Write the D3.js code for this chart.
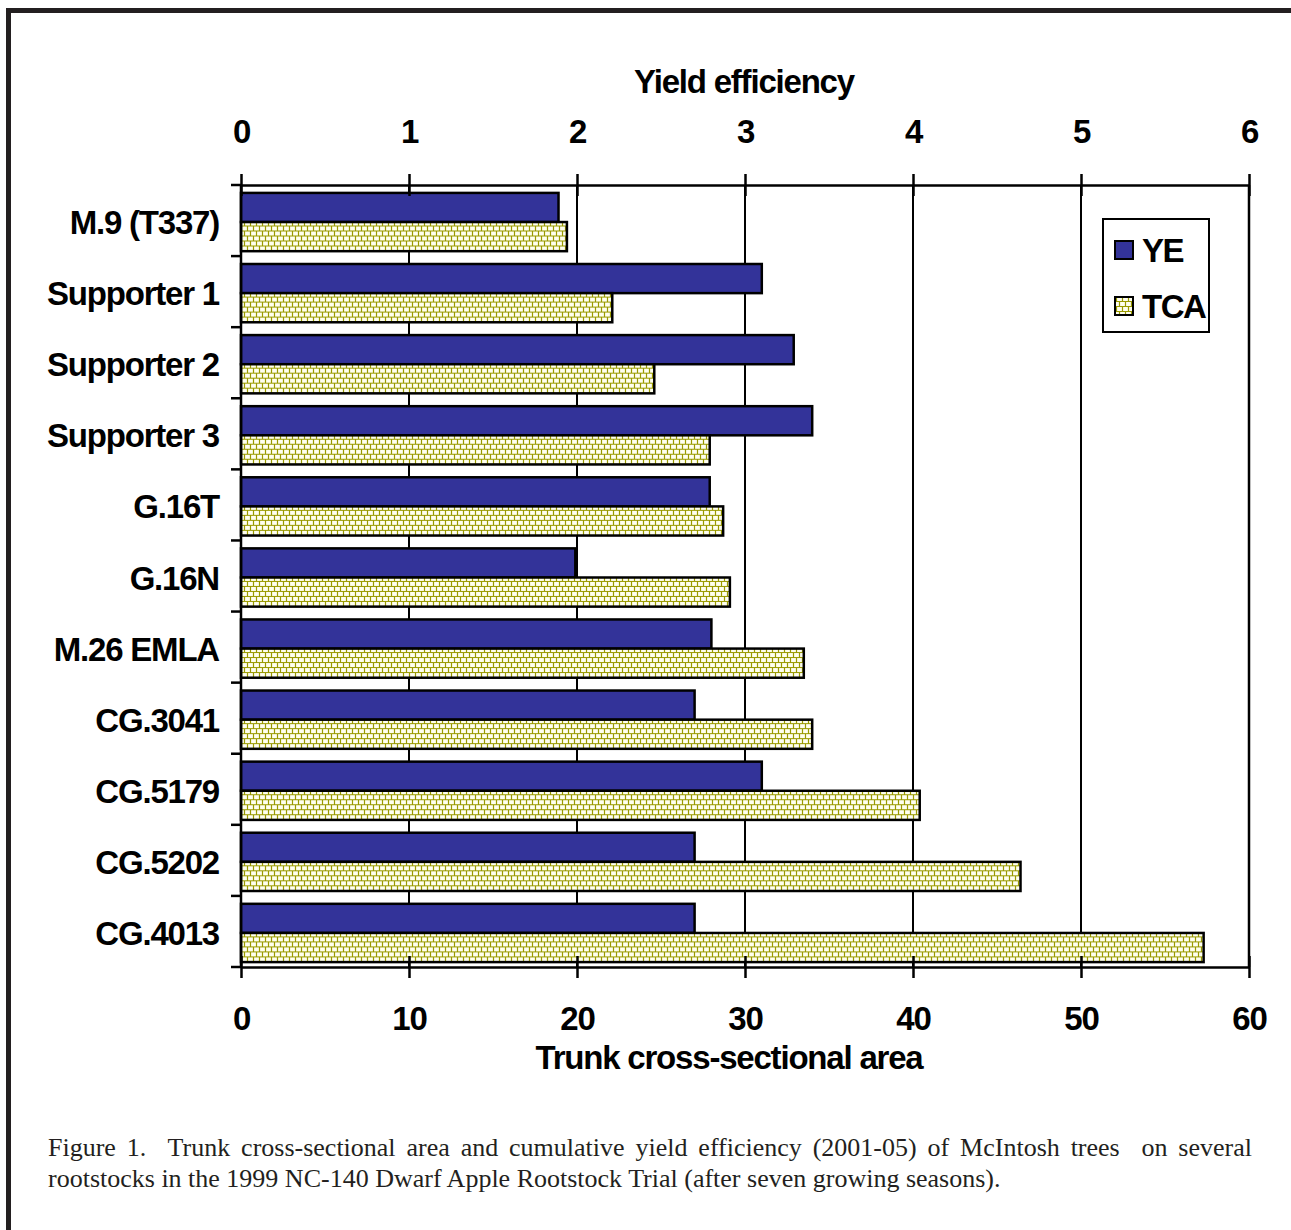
<!DOCTYPE html>
<html>
<head>
<meta charset="utf-8">
<script src="https://cdn.jsdelivr.net/npm/d3@7"></script>
<style>
  body { margin: 0; background: #fff; }
  svg { display: block; }
  .lbl { font-family: "Liberation Sans", Arial, sans-serif; font-weight: bold; font-size: 33px; letter-spacing: -1.2px; fill: #000; }
  .cap { font-family: "Liberation Serif", "Times New Roman", serif; font-size: 26px; fill: #231f20; }
</style>
</head>
<body>
<svg id="chart" width="1291" height="1230"></svg>
<script>
const ROOTSTOCKS = ['M.9 (T337)', 'Supporter 1', 'Supporter 2', 'Supporter 3', 'G.16T',
  'G.16N', 'M.26 EMLA', 'CG.3041', 'CG.5179', 'CG.5202', 'CG.4013']
const YE = [1.89, 3.10, 3.29, 3.40, 2.79, 1.99, 2.80, 2.70, 3.10, 2.70, 2.70]
const TCA = [19.4, 22.1, 24.6, 27.9, 28.7, 29.1, 33.5, 34.0, 40.4, 46.4, 57.3]
const YE_TICKS = [0, 1, 2, 3, 4, 5, 6]
const TCA_TICKS = [0, 10, 20, 30, 40, 50, 60]
const SERIES = ['YE', 'TCA']
const CAPTION = [
  'Figure 1.  Trunk cross-sectional area and cumulative yield efficiency (2001-05) of McIntosh trees  on several',
  'rootstocks in the 1999 NC-140 Dwarf Apple Rootstock Trial (after seven growing seasons).'
]

const svg = d3.select('#chart')
const plotL = 241, plotR = 1249, plotT = 185, plotB = 967

// brick hatch for the TCA bars
const pat = svg.append('defs').append('pattern')
  .attr('id', 'brick')
  .attr('patternUnits', 'userSpaceOnUse')
  .attr('width', 6).attr('height', 10)
pat.append('rect').attr('width', 6).attr('height', 10).attr('fill', '#fffff0')
pat.append('path')
  .attr('d', 'M0,4.5H6M0,9.5H6M1.5,0V4M4.5,5V9')
  .attr('stroke', '#999900').attr('stroke-width', 1.2)

// frame of the page
svg.append('path')
  .attr('d', 'M8.5,1230V10.5H1291')
  .attr('fill', 'none').attr('stroke', '#231f20').attr('stroke-width', 5)

const x = d3.scaleLinear().domain([0, 60]).range([plotL, plotR])
const xYE = d3.scaleLinear().domain([0, 6]).range([plotL, plotR])
const y = d3.scaleBand().domain(ROOTSTOCKS).range([plotT, plotB]).padding(0)
const inner = d3.scaleBand().domain(SERIES).range([0, y.bandwidth()])
  .paddingInner(0).paddingOuter(0.22)

// grid
svg.append('g').selectAll('line')
  .data(TCA_TICKS.slice(1))
  .join('line')
    .attr('x1', d => x(d)).attr('x2', d => x(d))
    .attr('y1', plotT).attr('y2', plotB)
    .attr('stroke', '#000').attr('stroke-width', 2)

const rows = svg.append('g').selectAll('g')
  .data(ROOTSTOCKS)
  .join('g')
    .attr('transform', d => `translate(0,${y(d) + 1.5})`)

rows.append('rect')
  .attr('x', plotL)
  .attr('y', inner('YE'))
  .attr('width', (d, i) => xYE(YE[i]) - plotL)
  .attr('height', inner.bandwidth())
  .attr('fill', '#333399').attr('stroke', '#000').attr('stroke-width', 2.5)

rows.append('rect')
  .attr('x', plotL)
  .attr('y', inner('TCA'))
  .attr('width', (d, i) => x(TCA[i]) - plotL)
  .attr('height', inner.bandwidth())
  .attr('fill', 'url(#brick)').attr('stroke', '#000').attr('stroke-width', 2.5)

// axes
const styleAxis = (g) => {
  g.select('.domain').attr('stroke', '#000').attr('stroke-width', 2.5)
  g.selectAll('.tick line').attr('stroke', '#000').attr('stroke-width', 2.5)
  g.selectAll('.tick text').attr('class', 'lbl').attr('font-size', null).attr('font-family', null)
}

svg.append('g')
  .attr('transform', `translate(0,${plotT})`)
  .call(d3.axisTop(xYE).tickValues(YE_TICKS).tickFormat(d3.format('d'))
    .tickSizeInner(11).tickSizeOuter(0).tickPadding(31))
  .call(g => g.selectAll('.tick').append('line').attr('y2', 11))
  .call(styleAxis)

svg.append('g')
  .attr('transform', `translate(0,${plotB})`)
  .call(d3.axisBottom(x).tickValues(TCA_TICKS).tickFormat(d3.format('d'))
    .tickSizeInner(11).tickSizeOuter(0).tickPadding(29))
  .call(g => g.selectAll('.tick').append('line').attr('y2', -11))
  .call(styleAxis)

// left axis: ticks sit between categories
const yEdges = ROOTSTOCKS.map(d => y(d)).concat([plotB])
svg.append('line')
  .attr('x1', plotL).attr('x2', plotL).attr('y1', plotT).attr('y2', plotB)
  .attr('stroke', '#000').attr('stroke-width', 2.5)
svg.append('g').selectAll('line')
  .data(yEdges)
  .join('line')
    .attr('x1', plotL - 10).attr('x2', plotL)
    .attr('y1', d => d).attr('y2', d => d)
    .attr('stroke', '#000').attr('stroke-width', 2.5)
svg.append('g').selectAll('text')
  .data(ROOTSTOCKS)
  .join('text')
    .attr('class', 'lbl')
    .attr('x', 219)
    .attr('y', d => y(d) + y.bandwidth() / 2 + 2)
    .attr('dy', '0.35em')
    .attr('text-anchor', 'end')
    .text(d => d)

// right border of the plot
svg.append('line')
  .attr('x1', plotR).attr('x2', plotR).attr('y1', plotT).attr('y2', plotB)
  .attr('stroke', '#000').attr('stroke-width', 2.5)

// titles
svg.append('text').attr('class', 'lbl')
  .attr('x', 744).attr('y', 93).attr('text-anchor', 'middle')
  .text('Yield efficiency')
svg.append('text').attr('class', 'lbl')
  .attr('x', 729).attr('y', 1069).attr('text-anchor', 'middle')
  .text('Trunk cross-sectional area')

// legend
const legend = svg.append('g').attr('transform', 'translate(1103,219)')
legend.append('rect').attr('width', 106).attr('height', 113)
  .attr('fill', '#fff').attr('stroke', '#000').attr('stroke-width', 2)
legend.selectAll('g')
  .data(SERIES)
  .join('g')
    .attr('transform', (d, i) => `translate(12,${22 + i * 56})`)
    .call(g => g.append('rect')
      .attr('width', 18).attr('height', 18)
      .attr('fill', d => d === 'YE' ? '#333399' : 'url(#brick)')
      .attr('stroke', '#000').attr('stroke-width', 2))
    .call(g => g.append('text')
      .attr('class', 'lbl')
      .attr('x', 27).attr('y', 21)
      .style('letter-spacing', '-1.5px')
      .text(d => d))

// caption, first line justified to the plot's right edge
svg.append('g').selectAll('text')
  .data(CAPTION)
  .join('text')
    .attr('class', 'cap')
    .attr('x', 48)
    .attr('y', (d, i) => 1156 + i * 31)
    .style('white-space', 'pre')
    .text(d => d)
    .each(function (d, i) {
      if (i > 0) return
      const extra = 1204 - this.getComputedTextLength()
      const gaps = d.split(' ').length - 1
      d3.select(this).style('word-spacing', `${extra / gaps}px`)
    })
</script>
</body>
</html>
